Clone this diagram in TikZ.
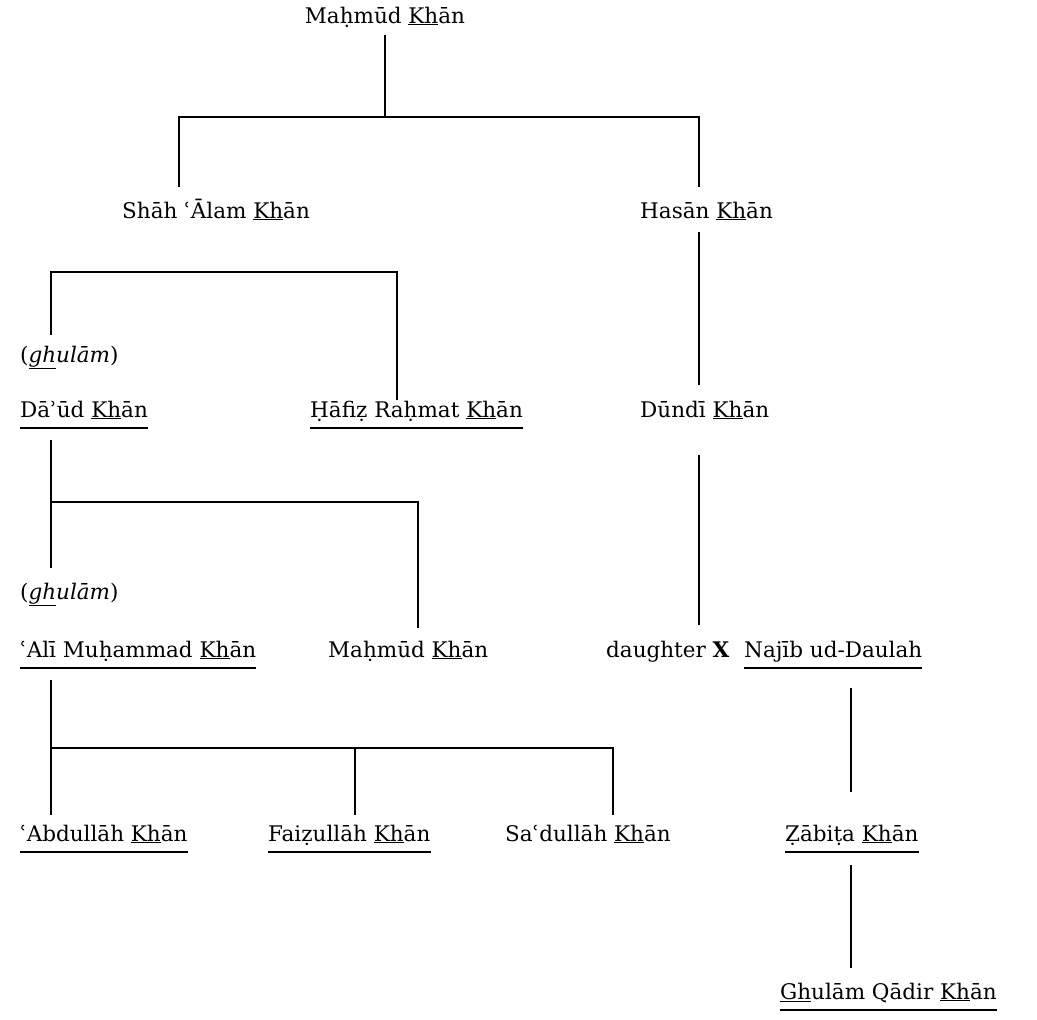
\documentclass[tikz,border=0pt]{standalone}
\usepackage{fontspec}
\setmainfont{DejaVu Serif}
\newcommand\ukh{\underline{Kh}}
\begin{document}
\begin{tikzpicture}[x=1pt,y=-1pt,
  nm/.style={inner sep=0pt, anchor=base west, font=\fontsize{21.5}{25}\selectfont},
  conn/.style={line width=1.4pt},
  ul/.style={line width=1.1pt}]
\useasboundingbox (0,0) rectangle (1037,1020);
% names
\node[nm,anchor=base] (m1) at (385,23) {Maḥmūd \ukh ān};
\node[nm] (sa) at (122,218) {Shāh ʿĀlam \ukh ān};
\node[nm] (ha) at (640,218) {Hasān \ukh ān};
\node[nm] (gh1) at (20,362) {(\textit{\underline{gh}ulām})};
\node[nm] (da) at (20,417) {Dāʾūd \ukh ān};
\node[nm] (hr) at (310,417) {Ḥāfiẓ Raḥmat \ukh ān};
\node[nm] (du) at (640,417) {Dūndī \ukh ān};
\node[nm] (gh2) at (20,599) {(\textit{\underline{gh}ulām})};
\node[nm] (al) at (20,657) {ʿAlī Muḥammad \ukh ān};
\node[nm] (m2) at (328,657) {Maḥmūd \ukh ān};
\node[nm] (dx) at (606,657) {daughter \textbf{X}};
\node[nm] (nj) at (744,657) {Najīb ud-Daulah};
\node[nm] (ab) at (20,841) {ʿAbdullāh \ukh ān};
\node[nm] (fa) at (268,841) {Faiẓullāh \ukh ān};
\node[nm] (sd) at (505,841) {Saʿdullāh \ukh ān};
\node[nm] (za) at (785,841) {Ẓābiṭa \ukh ān};
\node[nm] (gq) at (780,999) {\underline{Gh}ulām Qādir \ukh ān};
% full underlines
\foreach \n in {da,hr,al,nj,ab,fa,za,gq}
  \draw[ul] ([yshift=-11pt]\n.base west) -- ([yshift=-11pt]\n.base east);
% junction coordinates
\coordinate (a0) at (385,35);  \coordinate (a1) at (385,117);
\coordinate (a2) at (179,117); \coordinate (a3) at (179,187);
\coordinate (a4) at (699,117); \coordinate (a5) at (699,187);
\coordinate (h0) at (699,232); \coordinate (h1) at (699,385);
\coordinate (d0) at (699,455); \coordinate (d1) at (699,625);
\coordinate (s0) at (51,335);  \coordinate (s1) at (51,272);
\coordinate (s2) at (397,272); \coordinate (s3) at (397,400);
\coordinate (u0) at (51,440);  \coordinate (u1) at (51,568);
\coordinate (u2) at (51,502);  \coordinate (u3) at (418,502);
\coordinate (u4) at (418,628);
\coordinate (l0) at (51,680);  \coordinate (l1) at (51,815);
\coordinate (l2) at (51,748);  \coordinate (l3) at (613,748);
\coordinate (l4) at (613,815); \coordinate (l5) at (355,748);
\coordinate (l6) at (355,815);
\coordinate (n0) at (851,688); \coordinate (n1) at (851,792);
\coordinate (z0) at (851,865); \coordinate (z1) at (851,968);
% connectors
\draw[conn] (a0) -- (a1);
\draw[conn] (a3) -- (a2) -- (a4) -- (a5);
\draw[conn] (h0) -- (h1);
\draw[conn] (d0) -- (d1);
\draw[conn] (s0) -- (s1) -- (s2) -- (s3);
\draw[conn] (u0) -- (u1);
\draw[conn] (u2) -- (u3) -- (u4);
\draw[conn] (l0) -- (l1);
\draw[conn] (l2) -- (l3) -- (l4);
\draw[conn] (l5) -- (l6);
\draw[conn] (n0) -- (n1);
\draw[conn] (z0) -- (z1);
\end{tikzpicture}
\end{document}
